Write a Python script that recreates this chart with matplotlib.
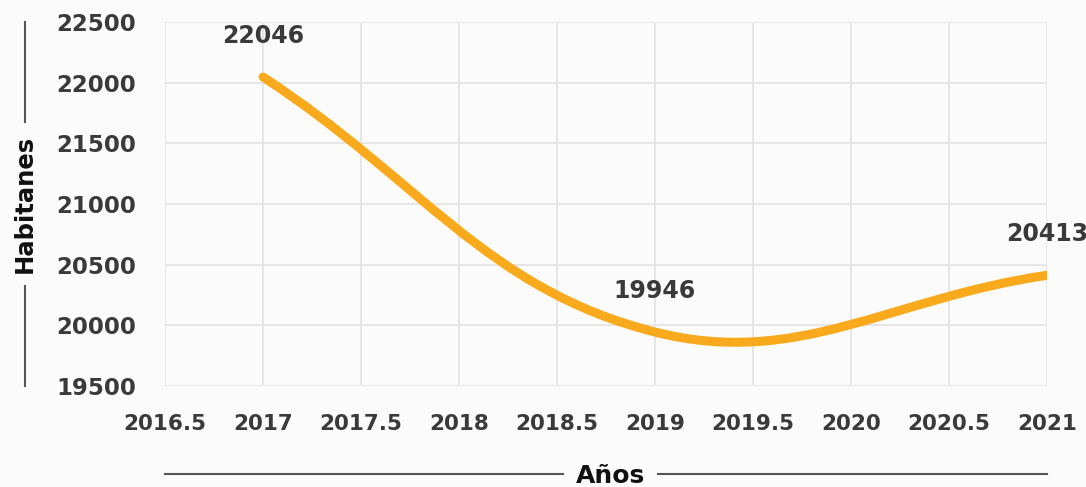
import numpy as np
import matplotlib
matplotlib.use('Agg')
import matplotlib.pyplot as plt
from matplotlib.path import Path
from matplotlib.patches import PathPatch
from matplotlib.lines import Line2D

# datos
years = [2017, 2019, 2021]
habitantes = [22046, 19946, 20413]
xticks = [2016.5, 2017, 2017.5, 2018, 2018.5, 2019, 2019.5, 2020, 2020.5, 2021]
yticks = [19500, 20000, 20500, 21000, 21500, 22000, 22500]

plt.rcParams['font.family'] = 'DejaVu Sans'
plt.rcParams['font.weight'] = 'bold'

bg = '#fbfbfb'
txt = '#3a3a3a'
fig = plt.figure(figsize=(10.86, 4.87), dpi=100, facecolor=bg)
ax = fig.add_axes([0.152, 0.207, 0.812, 0.748], facecolor=bg)
ax.set_xlim(2016.5, 2021)
ax.set_ylim(19500, 22500)
ax.set_xticks(xticks)
ax.set_xticklabels(['%g' % t for t in xticks])
ax.set_yticks(yticks)
ax.grid(True, color='#e4e4e4', lw=1.3)
ax.set_axisbelow(True)
for s in ax.spines.values():
    s.set_visible(False)
ax.tick_params(length=0, labelcolor=txt)
ax.tick_params(axis='y', pad=21, labelsize=16.5)
ax.tick_params(axis='x', pad=20, labelsize=15.5)

# curva suave tipo chart.js (tension 0.4), calculada en pixeles
t = 0.4
pts = ax.transData.transform(np.column_stack([years, habitantes]))
n = len(pts)
cp_prev, cp_next = [], []
for i in range(n):
    cur = pts[i]
    prev = pts[i - 1] if i > 0 else cur
    nxt = pts[i + 1] if i < n - 1 else cur
    d01 = np.hypot(*(cur - prev))
    d12 = np.hypot(*(nxt - cur))
    fa = t * d01 / (d01 + d12)
    fb = t * d12 / (d01 + d12)
    cp_prev.append(cur - fa * (nxt - prev))
    cp_next.append(cur + fb * (nxt - prev))
verts = [pts[0]]
codes = [Path.MOVETO]
for i in range(n - 1):
    verts += [cp_next[i], cp_prev[i + 1], pts[i + 1]]
    codes += [Path.CURVE4] * 3
verts = ax.transData.inverted().transform(np.array(verts))
ax.add_patch(PathPatch(Path(verts, codes), fill=False, edgecolor='#f9aa1c',
                       lw=6.5, capstyle='round', joinstyle='round', zorder=3))

for x, v in zip(years, habitantes):
    ax.annotate(str(v), (x, v), xytext=(0, 41), textcoords='offset pixels',
                ha='center', va='center', fontsize=17, color=txt,
                annotation_clip=False)

# titulos de ejes con lineas
lab_y = ax.text(-0.159, 0.5, 'Habitanes', rotation=90, transform=ax.transAxes,
                ha='center', va='center', fontsize=17.5, color='#111111')
lab_x = ax.text(0.505, -0.247, 'Años', transform=ax.transAxes,
                ha='center', va='center', fontsize=18, color='#111111')
fig.canvas.draw()
inv = ax.transAxes.inverted()
by = inv.transform(lab_y.get_window_extent())
bx = inv.transform(lab_x.get_window_extent())
gap = 0.035
lc = '#555555'
ax.add_line(Line2D([-0.159, -0.159], [1.0, by[1][1] + gap], transform=ax.transAxes,
                   color=lc, lw=1.5, clip_on=False))
ax.add_line(Line2D([-0.159, -0.159], [by[0][1] - gap, 0.0], transform=ax.transAxes,
                   color=lc, lw=1.5, clip_on=False))
ax.add_line(Line2D([0.0, bx[0][0] - 0.015], [-0.242, -0.242], transform=ax.transAxes,
                   color=lc, lw=1.5, clip_on=False))
ax.add_line(Line2D([bx[1][0] + 0.015, 1.0], [-0.242, -0.242], transform=ax.transAxes,
                   color=lc, lw=1.5, clip_on=False))

fig.savefig('out.png', dpi=100, facecolor=bg)
